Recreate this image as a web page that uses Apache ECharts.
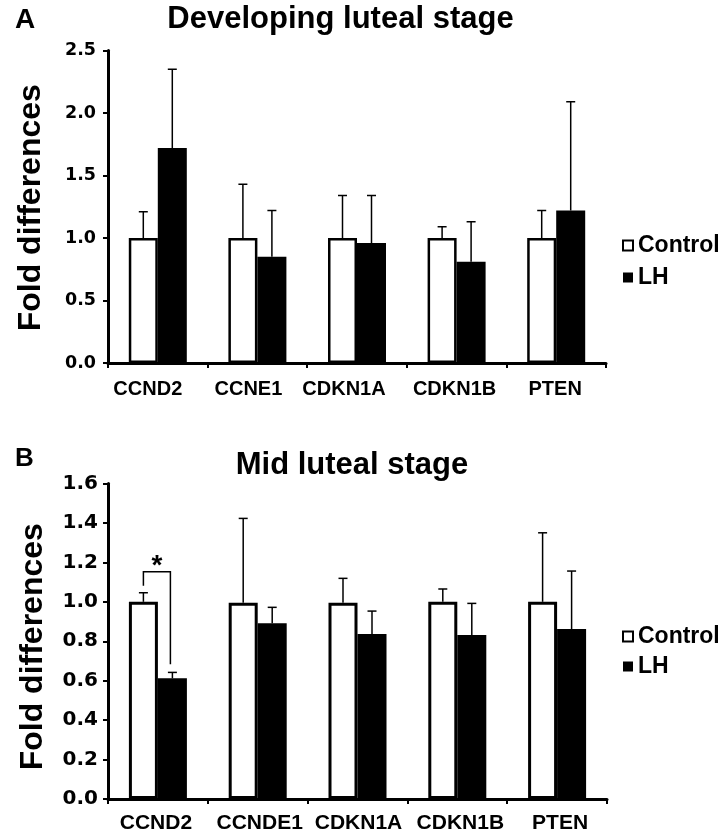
<!DOCTYPE html>
<html><head><meta charset="utf-8">
<script src="https://cdn.jsdelivr.net/npm/echarts@6/dist/echarts.min.js"></script>
<style>html,body{margin:0;padding:0;background:#fff}#c{width:724px;height:839px}</style>
</head><body><div id="c"></div>
<script>
// ---- data ----
const categoriesA = ['CCND2', 'CCNE1', 'CDKN1A', 'CDKN1B', 'PTEN'];
const controlA    = [1.00, 1.00, 1.00, 1.00, 1.00];
const controlSdA  = [0.21, 0.43, 0.34, 0.09, 0.22];
const lhA         = [1.72, 0.85, 0.96, 0.81, 1.22];
const lhSdA       = [0.63, 0.37, 0.38, 0.32, 0.87];

const categoriesB = ['CCND2', 'CCNDE1', 'CDKN1A', 'CDKN1B', 'PTEN'];
const controlB    = [1.00, 0.995, 0.995, 1.00, 1.00];
const controlSdB  = [0.046, 0.428, 0.124, 0.065, 0.35];
const lhB         = [0.612, 0.891, 0.837, 0.832, 0.862];
const lhSdB       = [0.030, 0.081, 0.116, 0.160, 0.294];

const ticksA = ['0.0', '0.5', '1.0', '1.5', '2.0', '2.5'];
const ticksB = ['0.0', '0.2', '0.4', '0.6', '0.8', '1.0', '1.2', '1.4', '1.6'];

// significance bracket in panel B (category index, left foot, top, right foot)
const sigCategoryB = 0;
const sigBracketB  = [1.082, 1.153, 0.683];
const sigMarkB     = '*';

// ---- layout / style constants ----
const FONT = "'Liberation Sans', Arial, Helvetica, sans-serif";
const TICKFONT = "'DejaVu Sans', sans-serif";
const BAR_W = 29;
const labelNudgeA = [-10, -9, -13, -2, -1];
const labelNudgeB = [-2, 2, 1, 3, 3];

function richFor(nudges, size) {
  const r = {};
  nudges.forEach((n, i) => {
    r['n' + i] = {
      fontSize: size, fontWeight: 'bold', fontFamily: FONT, color: '#000',
      padding: n < 0 ? [0, -2 * n, 0, 0] : [0, 0, 0, 2 * n]
    };
  });
  return r;
}

function xAxisFor(idx, cats, nudges, size, margin) {
  return {
    type: 'category', gridIndex: idx, data: cats,
    axisLine: { lineStyle: { color: '#000', width: 3 } },
    axisTick: { show: true, length: 5, lineStyle: { color: '#000', width: 2 } },
    axisLabel: {
      margin: margin, interval: 0,
      formatter: (v, i) => '{n' + i + '|' + v + '}',
      rich: richFor(nudges, size)
    },
    splitLine: { show: false }
  };
}

function yAxisFor(idx, max, step, ticks, size, margin, gap, pad) {
  return {
    type: 'value', gridIndex: idx, min: 0, max: max, interval: step,
    name: 'Fold differences', nameLocation: 'middle', nameRotate: 90, nameGap: gap,
    nameTextStyle: { fontSize: 32, fontWeight: 'bold', fontFamily: FONT, color: '#000', padding: pad },
    axisLine: { show: true, lineStyle: { color: '#000', width: 3 } },
    axisTick: { show: true, length: 5, lineStyle: { color: '#000', width: 2 } },
    axisLabel: {
      margin: margin, fontSize: size, fontWeight: 'bold', fontFamily: TICKFONT, color: '#000',
      formatter: v => ticks[Math.round(v / step)]
    },
    splitLine: { show: false }
  };
}

function barSeries(name, idx, vals, fill, bw) {
  return {
    type: 'bar', name: name, xAxisIndex: idx, yAxisIndex: idx, data: vals,
    barWidth: BAR_W, barGap: '0%',
    itemStyle: { color: fill, borderColor: '#000', borderWidth: bw },
    silent: true, z: 2
  };
}

function errSeries(idx, vals, sds, side) {
  return {
    type: 'custom', xAxisIndex: idx, yAxisIndex: idx, z: 5, silent: true,
    data: vals.map((v, i) => [i, v, v + sds[i]]),
    renderItem(params, api) {
      const b = api.coord([api.value(0), api.value(1)]);
      const t = api.coord([api.value(0), api.value(2)]);
      const x = b[0] + side * BAR_W / 2;
      return {
        type: 'group', children: [
          { type: 'line', shape: { x1: x, y1: b[1], x2: x, y2: t[1] }, style: { stroke: '#000', lineWidth: 1.5 } },
          { type: 'line', shape: { x1: x - 4.5, y1: t[1], x2: x + 4.5, y2: t[1] }, style: { stroke: '#000', lineWidth: 1.5 } }
        ]
      };
    }
  };
}

const bracketSeries = {
  type: 'custom', xAxisIndex: 1, yAxisIndex: 1, z: 6, silent: true,
  data: [[sigCategoryB].concat(sigBracketB)],
  renderItem(params, api) {
    const c = api.value(0);
    const l = api.coord([c, api.value(1)]);
    const t = api.coord([c, api.value(2)]);
    const r = api.coord([c, api.value(3)]);
    const xl = l[0] - BAR_W / 2, xr = l[0] + BAR_W / 2 - 2;
    return {
      type: 'group', children: [
        { type: 'polyline', shape: { points: [[xl, l[1]], [xl, t[1]], [xr, t[1]], [xr, r[1]]] },
          style: { stroke: '#000', lineWidth: 1.5, fill: null } },
        { type: 'text', x: (xl + xr) / 2, y: t[1] - 5,
          style: { text: sigMarkB, align: 'center', verticalAlign: 'middle',
                   fontSize: 28, fontWeight: 'bold', fontFamily: FONT, fill: '#000' } }
      ]
    };
  }
};

function legendFor(top, gap) {
  return {
    left: 622, top: top, orient: 'vertical', itemWidth: 10, itemHeight: 10, itemGap: gap,
    padding: 0, selectedMode: false,
    data: [
      { name: 'Control', icon: 'rect', itemStyle: { color: '#fff', borderColor: '#000', borderWidth: 2 } },
      { name: 'LH', icon: 'rect', itemStyle: { color: '#000', borderWidth: 0 } }
    ],
    textStyle: { fontSize: 23, fontWeight: 'bold', fontFamily: FONT, color: '#000' }
  };
}

const chart = echarts.init(document.getElementById('c'));
chart.setOption({
  animation: false,
  backgroundColor: '#fff',
  grid: [
    { left: 108, top: 50.5, width: 498, height: 312.5 },
    { left: 108, top: 483.5, width: 499, height: 315.5 }
  ],
  xAxis: [
    xAxisFor(0, categoriesA, labelNudgeA, 20, 16),
    xAxisFor(1, categoriesB, labelNudgeB, 21, 14)
  ],
  yAxis: [
    yAxisFor(0, 2.5, 0.5, ticksA, 17.5, 12, 61, [0, 2, 0, 0]),
    yAxisFor(1, 1.6, 0.2, ticksB, 20, 10, 59, [0, 11, 0, 0])
  ],
  legend: [legendFor(234, 9), legendFor(625, 7)],
  graphic: [
    { type: 'text', x: 15, y: 20, style: { text: 'A', fontSize: 28, fontWeight: 'bold', fontFamily: FONT, fill: '#000', align: 'left', verticalAlign: 'middle' } },
    { type: 'text', x: 340.5, y: 19.5, style: { text: 'Developing luteal stage', fontSize: 31, fontWeight: 'bold', fontFamily: FONT, fill: '#000', align: 'center', verticalAlign: 'middle' } },
    { type: 'text', x: 15, y: 459, style: { text: 'B', fontSize: 26, fontWeight: 'bold', fontFamily: FONT, fill: '#000', align: 'left', verticalAlign: 'middle' } },
    { type: 'text', x: 352, y: 465.5, style: { text: 'Mid luteal stage', fontSize: 31, fontWeight: 'bold', fontFamily: FONT, fill: '#000', align: 'center', verticalAlign: 'middle' } }
  ],
  series: [
    barSeries('Control', 0, controlA, '#fff', 2.5),
    barSeries('LH', 0, lhA, '#000', 2.5),
    errSeries(0, controlA, controlSdA, -1),
    errSeries(0, lhA, lhSdA, 1),
    barSeries('Control', 1, controlB, '#fff', 3),
    barSeries('LH', 1, lhB, '#000', 3),
    errSeries(1, controlB, controlSdB, -1),
    errSeries(1, lhB, lhSdB, 1),
    bracketSeries
  ]
});
</script></body></html>
